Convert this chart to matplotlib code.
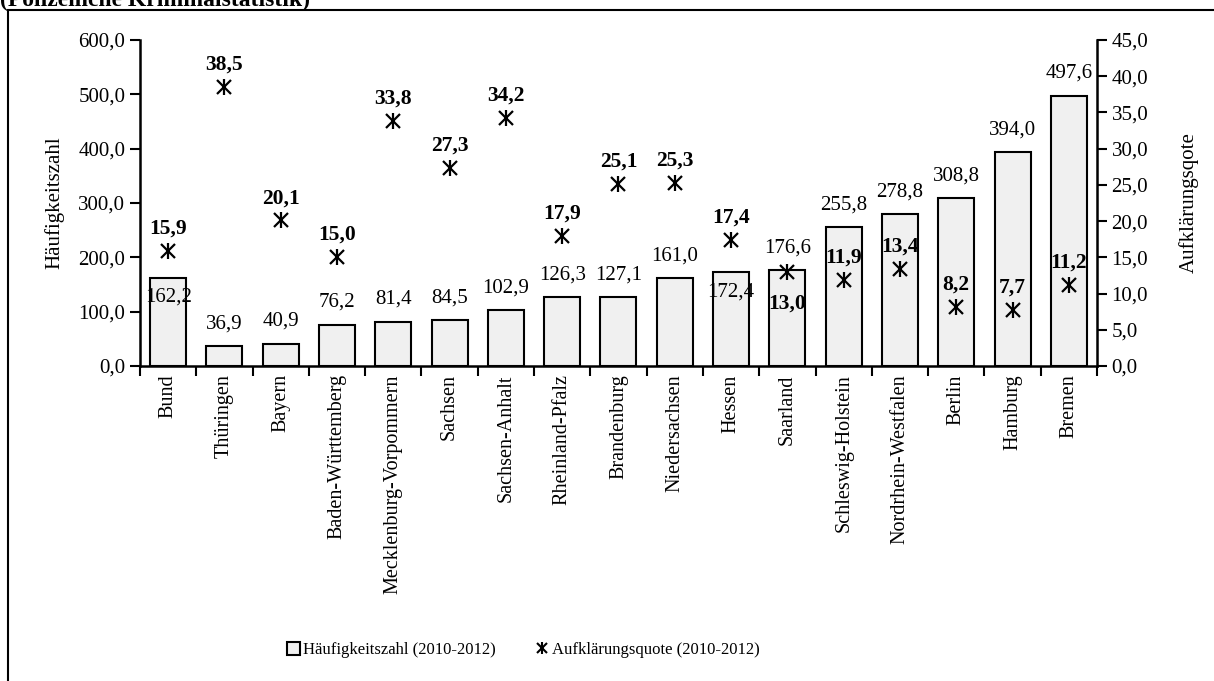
import matplotlib.pyplot as plt
import matplotlib.patches as mpatches
from matplotlib.ticker import FuncFormatter
import numpy as np

plt.rcParams['font.family'] = ['Liberation Serif', 'DejaVu Serif']

# Daten
laender = ['Bund', 'Thüringen', 'Bayern', 'Baden-Württemberg', 'Mecklenburg-Vorpommern',
           'Sachsen', 'Sachsen-Anhalt', 'Rheinland-Pfalz', 'Brandenburg', 'Niedersachsen',
           'Hessen', 'Saarland', 'Schleswig-Holstein', 'Nordrhein-Westfalen', 'Berlin',
           'Hamburg', 'Bremen']
haeufigkeitszahl = [162.2, 36.9, 40.9, 76.2, 81.4, 84.5, 102.9, 126.3, 127.1, 161.0,
                    172.4, 176.6, 255.8, 278.8, 308.8, 394.0, 497.6]
aufklaerungsquote = [15.9, 38.5, 20.1, 15.0, 33.8, 27.3, 34.2, 17.9, 25.1, 25.3,
                     17.4, 13.0, 11.9, 13.4, 8.2, 7.7, 11.2]

def komma(v, pos=None):
    return f'{v:.1f}'.replace('.', ',')

fs = 15
x = np.arange(len(laender))

fig = plt.figure(figsize=(12.14, 6.81), dpi=100)
ax = fig.add_axes([0.1153, 0.4626, 0.7883, 0.4787])
ax2 = ax.twinx()

# Balken
ax.bar(x, haeufigkeitszahl, width=0.64, color='#f0f0f0', edgecolor='black', linewidth=1.5, zorder=2)
for i, v in enumerate(haeufigkeitszahl):
    dy = -14 if laender[i] in ('Bund', 'Hessen') else 16
    ax.annotate(komma(v), (i, v), xytext=(0, dy), textcoords='offset points',
                ha='center', va='center', fontsize=fs)

# Aufklärungsquote (Sternmarker = x + |)
ax2.plot(x, aufklaerungsquote, ls='none', marker='x', ms=10, mew=1.6, color='black', zorder=3)
ax2.plot(x, aufklaerungsquote, ls='none', marker='|', ms=12, mew=1.6, color='black', zorder=3)
for i, v in enumerate(aufklaerungsquote):
    dy = -23 if laender[i] == 'Saarland' else 16
    ax2.annotate(komma(v), (i, v), xytext=(0, dy), textcoords='offset points',
                 ha='center', va='center', fontsize=fs + 0.5, fontweight='bold')

ax.set_xlim(-0.5, len(laender) - 0.5)
ax.set_ylim(0, 600)
ax.set_yticks(np.arange(0, 601, 100))
ax2.set_ylim(0, 45)
ax2.set_yticks(np.arange(0, 46, 5))
ax.yaxis.set_major_formatter(FuncFormatter(komma))
ax2.yaxis.set_major_formatter(FuncFormatter(komma))

ax.set_xticks(x)
ax.set_xticklabels(laender, rotation=90, fontsize=fs - 0.5)
ax.set_xticks(np.arange(-0.5, len(laender), 1), minor=True)
ax.tick_params(axis='x', which='major', length=0, pad=6)
ax.tick_params(axis='x', which='minor', length=7, width=1.5, direction='out')
ax.tick_params(axis='y', labelsize=fs, length=7, width=1.5, direction='out')
ax2.tick_params(axis='y', labelsize=fs, length=7, width=1.5, direction='out')

for a in (ax, ax2):
    a.spines['top'].set_visible(False)
    for s in ('left', 'right', 'bottom'):
        a.spines[s].set_linewidth(1.8)
ax.spines['right'].set_visible(False)
ax2.spines['left'].set_visible(False)
ax2.spines['bottom'].set_visible(False)

ax.set_ylabel('Häufigkeitszahl', fontsize=fs, labelpad=10)
ax2.set_ylabel('Aufklärungsqote', fontsize=fs, labelpad=22)

# Legende
h1 = mpatches.Patch(facecolor='#f0f0f0', edgecolor='black', linewidth=1.5)
l1, = ax2.plot([], [], ls='none', marker='x', ms=7, mew=1.5, color='black')
l2, = ax2.plot([], [], ls='none', marker='|', ms=8, mew=1.5, color='black')
fig.legend([h1, (l1, l2)], ['Häufigkeitszahl (2010-2012)', 'Aufklärungsquote (2010-2012)'],
           loc='center', bbox_to_anchor=(0.431, 0.045), ncol=2, frameon=False, fontsize=12,
           handlelength=0.8, handleheight=0.8, handletextpad=0.15, columnspacing=2.4)

# Rahmen und abgeschnittener Titel
fig.patches.append(mpatches.Rectangle((8 / 1214, -0.1), 1.2, 1 - 10 / 681 + 0.1,
                                      transform=fig.transFigure, fill=False,
                                      edgecolor='black', linewidth=1.5))
fig.text(0.0, 1.0, '(Polizeiliche Kriminalstatistik)', fontsize=17, fontweight='bold',
         ha='left', va='center')

fig.savefig('out.png', dpi=100)
